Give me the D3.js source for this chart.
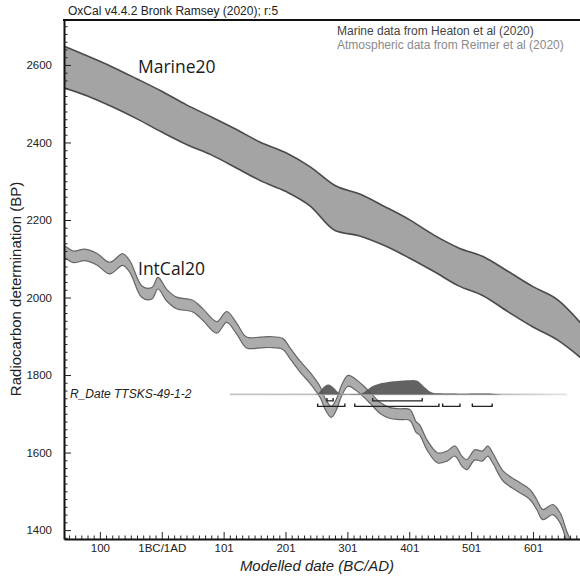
<!DOCTYPE html>
<html>
<head>
<meta charset="utf-8">
<script src="https://cdn.jsdelivr.net/npm/d3@7"></script>
<style>
	body { margin: 0; background: #fff; }
	svg { display: block; }
</style>
</head>
<body>
<div id="container"></div>
<script>
// calendar years are astronomical (0 = 1BC/1AD), BP on the y axis
const marineYears = [-160, -120, -80, -40, 0, 40, 80, 120, 160, 200, 240, 280, 320, 360, 400, 440, 480, 520, 560, 600, 640, 680];
const marineUpper = [2650, 2623, 2595, 2564, 2532, 2497, 2466, 2434, 2400, 2374, 2337, 2289, 2267, 2235, 2201, 2161, 2128, 2105, 2067, 2028, 1994, 1929];
const marineLower = [2542, 2520, 2492, 2461, 2427, 2395, 2368, 2335, 2301, 2274, 2236, 2173, 2159, 2134, 2102, 2067, 2030, 2004, 1963, 1924, 1890, 1841];

const intcalYears = [-161, -156, -143, -124, -105, -84, -63, -51, -32, -16, -6, 8, 24, 50, 67, 89, 105, 121, 137, 159,
	175, 196, 207, 223, 240, 256, 265, 274, 282, 291, 301, 312, 324, 337, 353, 369, 385, 401, 411, 417,
	429, 446, 461, 474, 485, 493, 506, 518, 527, 535, 552, 574, 595, 606, 616, 632, 644, 655, 668];
const intcalBP = [2120, 2117, 2105, 2110, 2099, 2076, 2098, 2078, 2015, 2011, 2037, 2006, 1986, 1978, 1955, 1923, 1950, 1920, 1884, 1884,
	1885, 1880, 1857, 1823, 1792, 1756, 1723, 1705, 1723, 1761, 1785, 1777, 1761, 1741, 1715, 1702, 1699, 1697, 1666, 1658,
	1619, 1586, 1591, 1604, 1578, 1569, 1594, 1591, 1604, 1586, 1539, 1514, 1492, 1466, 1440, 1453, 1431, 1382, 1335];
const intcalSigma = [15, 15, 15, 15, 15, 15, 15, 15, 15, 15, 15, 15, 15, 15, 15, 15, 14, 14, 14, 14,
	14, 14, 14, 14, 14, 14, 14, 14, 14, 14, 14, 14, 14, 14, 14, 14, 14, 14, 14, 13,
	13, 13, 13, 13, 13, 13, 13, 13, 13, 13, 13, 13, 13, 13, 13, 13, 13, 13, 13];

// R_Date TTSKS-49-1-2 : calibrated probability (relative)
const rDateLabel = 'R_Date TTSKS-49-1-2';
const rDateBP = 1750;
const distYears = [248, 254, 260, 265, 269, 274, 279, 284, 289, 300, 315, 324, 330, 336, 343, 350, 358, 366, 376, 386,
	396, 406, 412, 417, 422, 427, 432, 438, 445, 455, 465, 475, 485, 495, 505, 515, 525, 535, 545, 552];
const distProb = [0, 0.12, 0.45, 0.62, 0.68, 0.6, 0.42, 0.18, 0.04, 0.02, 0.03, 0.08, 0.25, 0.45, 0.62, 0.72, 0.8, 0.86, 0.9, 0.94,
	0.97, 1.0, 0.96, 0.82, 0.62, 0.42, 0.24, 0.12, 0.08, 0.07, 0.06, 0.07, 0.05, 0.05, 0.06, 0.07, 0.06, 0.05, 0.02, 0];
const range68 = [[267, 277], [341, 421]];
const range95 = [[252, 296], [312, 448], [454, 482], [502, 534]];
const lineYears = [110, 655];

const xTickYears = [-100, 0, 100, 200, 300, 400, 500, 600];
const xTickLabels = ['100', '1BC/1AD', '101', '201', '301', '401', '501', '601'];
const yTicks = [1400, 1600, 1800, 2000, 2200, 2400, 2600];

window.onload = function () {
	'use strict';
	let options = {
		width: 580,
		height: 583,
		left: 64,
		right: 580,
		top: 20,
		bottom: 539,
	};
	let font = "'Liberation Sans', Arial, sans-serif";

	let svg = d3.select('#container')
		.append('svg')
		.attr('width', options.width)
		.attr('height', options.height);

	let x = d3.scaleLinear().domain([-158, 676]).range([options.left, options.right]);
	let y = d3.scaleLinear().domain([1377, 2716]).range([options.bottom, options.top]);
	let probH = d3.scaleLinear().domain([0, 1]).range([0, 14.5]);

	svg.append('clipPath').attr('id', 'plot')
		.append('rect')
		.attr('x', options.left).attr('y', options.top)
		.attr('width', options.right - options.left)
		.attr('height', options.bottom - options.top);

	let g = svg.append('g').attr('clip-path', 'url(#plot)');

	// Marine20 band
	let marine = marineYears.map((d, i) => ({ t: d, hi: marineUpper[i], lo: marineLower[i] }));
	g.append('path')
		.datum(marine)
		.attr('d', d3.area().curve(d3.curveMonotoneX)
			.x((d) => x(d.t)).y0((d) => y(d.lo)).y1((d) => y(d.hi)))
		.attr('fill', '#a4a4a4')
		.attr('stroke', '#4a4a4a')
		.attr('stroke-width', 1.6);

	// IntCal20 band
	let intcal = intcalYears.map((d, i) => ({ t: d, bp: intcalBP[i], s: intcalSigma[i] }));
	g.append('path')
		.datum(intcal)
		.attr('d', d3.area().curve(d3.curveCatmullRom)
			.x((d) => x(d.t)).y0((d) => y(d.bp - d.s)).y1((d) => y(d.bp + d.s)))
		.attr('fill', '#acacac')
		.attr('stroke', '#666')
		.attr('stroke-width', 1.2);

	// date baseline
	let base = y(rDateBP);
	let grad = svg.append('linearGradient').attr('id', 'fade')
		.attr('gradientUnits', 'userSpaceOnUse')
		.attr('x1', x(lineYears[0])).attr('x2', x(lineYears[1]))
		.attr('y1', 0).attr('y2', 0);
	grad.append('stop').attr('offset', 0).attr('stop-color', '#c4c4c4');
	grad.append('stop').attr('offset', 0.8).attr('stop-color', '#bdbdbd');
	grad.append('stop').attr('offset', 1).attr('stop-color', '#e4e4e4');
	g.append('line')
		.attr('x1', x(lineYears[0])).attr('x2', x(lineYears[1]))
		.attr('y1', base).attr('y2', base)
		.attr('stroke', 'url(#fade)')
		.attr('stroke-width', 1.6);

	// probability distribution
	let dist = distYears.map((d, i) => ({ t: d, p: distProb[i] }));
	g.append('path')
		.datum(dist)
		.attr('d', d3.area().curve(d3.curveMonotoneX)
			.x((d) => x(d.t)).y0(base).y1((d) => base - probH(d.p)))
		.attr('fill', '#555')
		.attr('fill-opacity', 0.92);

	// range brackets
	function brackets(ranges, yy) {
		let sel = g.append('g').attr('stroke', '#222').attr('stroke-width', 1.4).attr('fill', 'none');
		sel.selectAll('path').data(ranges).enter().append('path')
			.attr('d', (d) => 'M' + x(d[0]) + ',' + (yy - 3) + 'V' + yy + 'H' + x(d[1]) + 'V' + (yy - 3));
	}
	brackets(range68, base + 6.5);
	brackets(range95, base + 12);

	svg.append('text')
		.attr('x', 70).attr('y', base + 3.8)
		.attr('font-family', font).attr('font-size', 12).attr('font-style', 'italic')
		.attr('fill', '#222')
		.text(rDateLabel);

	// curve labels
	svg.append('text').attr('x', 138).attr('y', 73)
		.attr('font-family', "'Open Sans', sans-serif").attr('font-size', 17.5).attr('fill', '#1a1a1a')
		.text('Marine20');
	svg.append('text').attr('x', 138).attr('y', 275)
		.attr('font-family', "'Open Sans', sans-serif").attr('font-size', 17.5).attr('fill', '#1a1a1a')
		.text('IntCal20');

	// axes
	let yAxis = svg.append('g')
		.attr('transform', 'translate(' + options.left + ',0)')
		.call(d3.axisLeft(y).tickValues(yTicks).tickSize(-7).tickSizeOuter(0).tickPadding(12)
			.tickFormat(d3.format('d')));
	svg.append('g')
		.attr('transform', 'translate(' + options.left + ',0)')
		.call(d3.axisLeft(y).tickValues(d3.range(1380, 2716, 20).filter((v) => v % 200 != 0))
			.tickSize(-3.5).tickFormat(() => ''))
		.call((a) => a.select('.domain').remove());

	let xAxis = svg.append('g')
		.attr('transform', 'translate(0,' + options.bottom + ')')
		.call(d3.axisBottom(x).tickValues(xTickYears).tickSize(-7).tickSizeOuter(0).tickPadding(5)
			.tickFormat((d, i) => xTickLabels[i]));
	svg.append('g')
		.attr('transform', 'translate(0,' + options.bottom + ')')
		.call(d3.axisBottom(x).tickValues(d3.range(-150, 676, 10).filter((v) => v % 100 != 0))
			.tickSize(-3.5).tickFormat(() => ''))
		.call((a) => a.select('.domain').remove());

	[yAxis, xAxis].forEach((a) => {
		a.select('.domain').attr('stroke', '#111').attr('stroke-width', 2);
		a.selectAll('text').attr('font-family', font).attr('font-size', 11.5).attr('fill', '#222');
	});
	svg.selectAll('.tick line').attr('stroke', '#222').attr('stroke-width', 1);

	// frame top line
	svg.append('line')
		.attr('x1', options.left - 1).attr('x2', options.right)
		.attr('y1', options.top).attr('y2', options.top)
		.attr('stroke', '#111').attr('stroke-width', 2);

	// titles and legend
	svg.append('text').attr('x', 68).attr('y', 15)
		.attr('font-family', font).attr('font-size', 12).attr('fill', '#222')
		.text('OxCal v4.4.2 Bronk Ramsey (2020); r:5');
	svg.append('text').attr('x', 337).attr('y', 35)
		.attr('font-family', font).attr('font-size', 12).attr('fill', '#444')
		.text('Marine data from Heaton et al (2020)');
	svg.append('text').attr('x', 337).attr('y', 49)
		.attr('font-family', font).attr('font-size', 12).attr('fill', '#8a8a8a')
		.text('Atmospheric data from Reimer et al (2020)');

	svg.append('text')
		.attr('transform', 'translate(21,289) rotate(-90)')
		.attr('text-anchor', 'middle')
		.attr('font-family', font).attr('font-size', 15).attr('fill', '#222')
		.text('Radiocarbon determination (BP)');
	svg.append('text')
		.attr('x', 317).attr('y', 571)
		.attr('text-anchor', 'middle')
		.attr('font-family', font).attr('font-size', 15).attr('font-style', 'italic').attr('fill', '#222')
		.text('Modelled date (BC/AD)');
};
</script>
</body>
</html>
